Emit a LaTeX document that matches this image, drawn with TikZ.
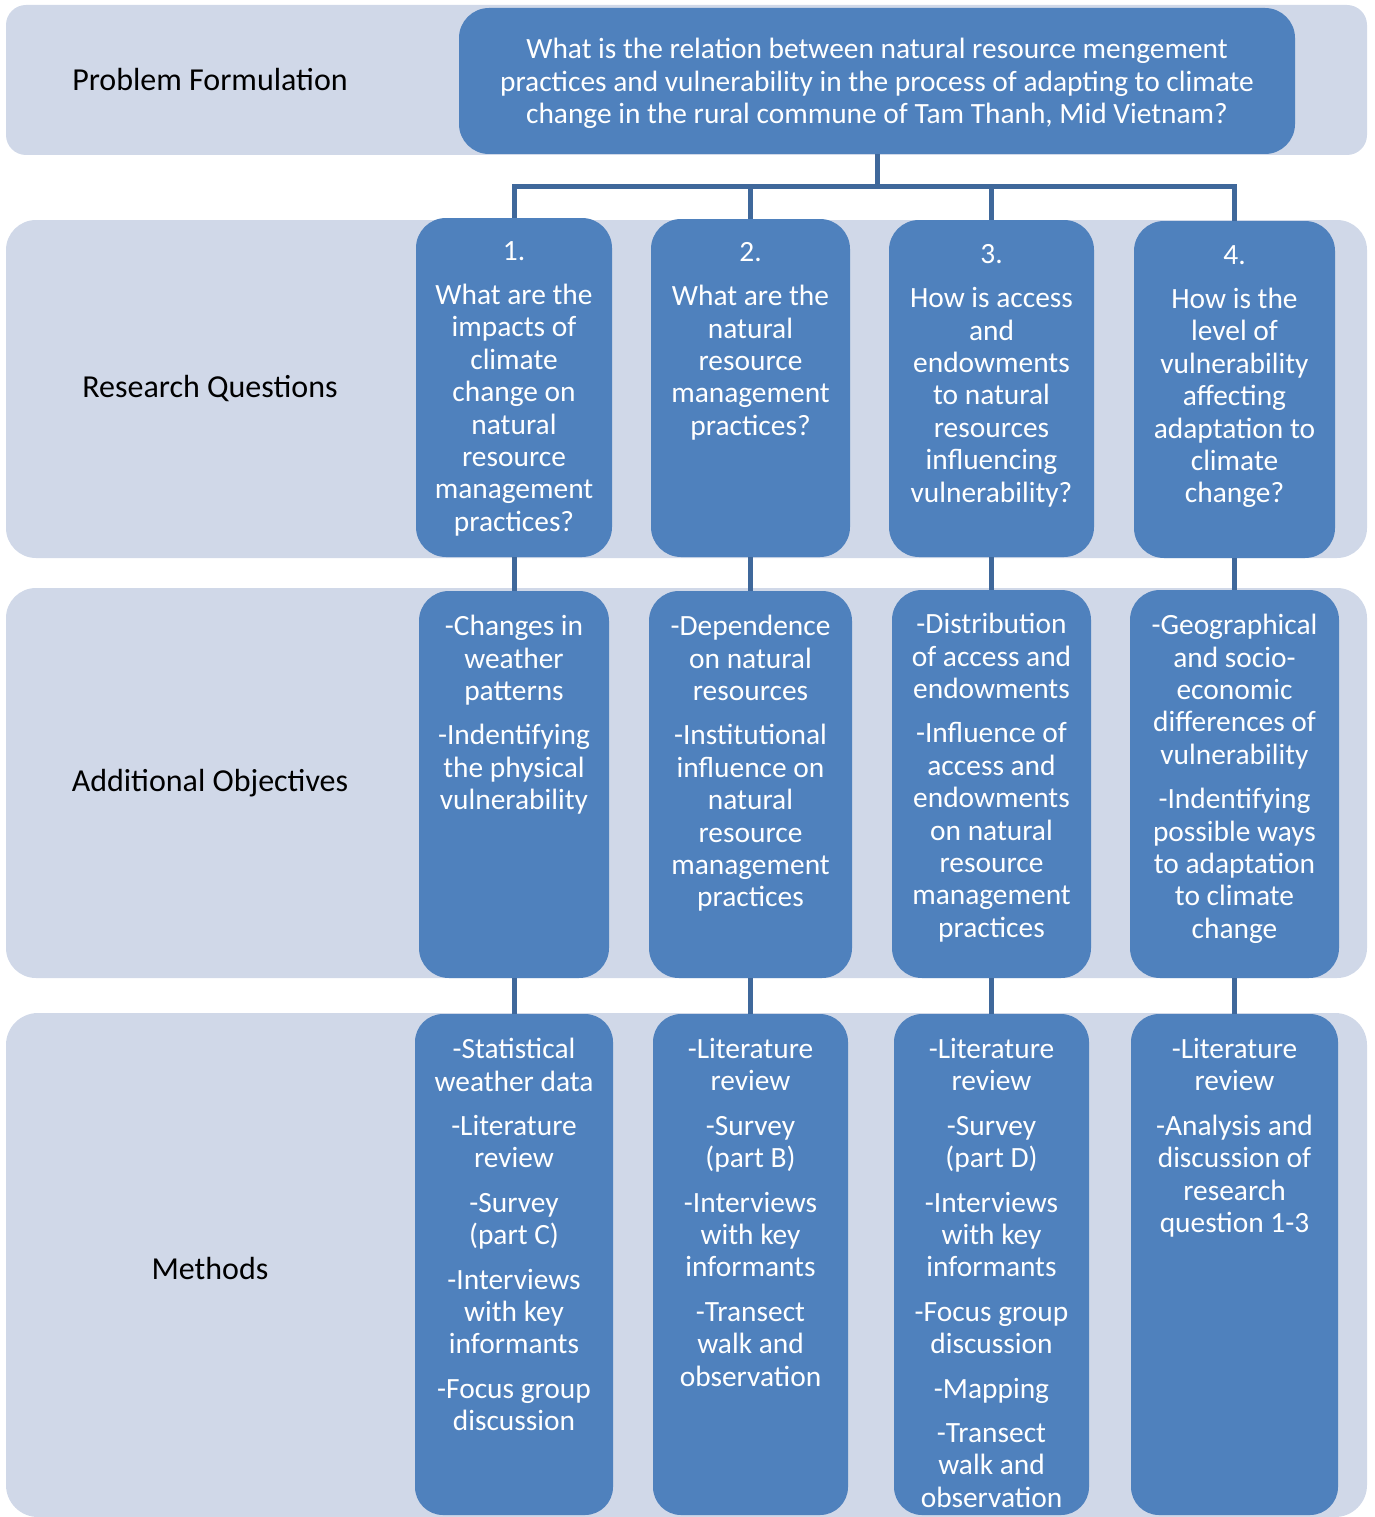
\documentclass[tikz,border=0pt]{standalone}
\usepackage{fontspec}
\setmainfont{Carlito}
\usetikzlibrary{fit}
\definecolor{bandc}{RGB}{208,216,232}
\definecolor{boxc}{RGB}{79,129,189}
\definecolor{linec}{RGB}{63,104,155}
\begin{document}
\begin{tikzpicture}[x=1pt,y=-1pt,
  band/.style={fill=bandc, draw=none},
  qbox/.style={fill=boxc, draw=none, rectangle, rounded corners=30pt, inner sep=0pt},
  qtxt/.style={text=white, align=center, anchor=north, inner sep=0pt, font=\fontsize{29.4}{32.4}\selectfont},
  lbl/.style={text=black, inner sep=0pt, font=\fontsize{32}{36}\selectfont},
  conn/.style={draw=linec, line width=5pt}]
\useasboundingbox (0,0) rectangle (1374,1517);
% bands
\fill[band, rounded corners=20pt] (6,5) rectangle (1367,155);
\fill[band, rounded corners=30pt] (6,220) rectangle (1367,558);
\fill[band, rounded corners=30pt] (6,588) rectangle (1367,978);
\fill[band, rounded corners=32pt] (6,1013) rectangle (1367,1517);
% row labels
\node[lbl] (lpf) at (210,80) {Problem Formulation};
\node[lbl] (lrq) at (210,389) {Research Questions};
\node[lbl] (lao) at (210,783) {Additional Objectives};
\node[lbl] (lme) at (210,1268) {Methods};
% top box
\node[qbox, fit={(459,8) (1295,154)}] (top) {};
\node[qtxt] (ttop) at (877,38) {What is the relation between natural resource mengement\\ practices and vulnerability in the process of adapting to climate\\ change in the rural commune of Tam Thanh, Mid Vietnam?};
% research questions
\node[qbox, fit={(416,218) (612,557)}] (q1) {};
\node[qbox, fit={(651,219) (850,557)}] (q2) {};
\node[qbox, fit={(889,220) (1094,557)}] (q3) {};
\node[qbox, fit={(1134,221) (1335,558)}] (q4) {};
\node[qtxt] (tq1) at (514,241) {1.\\[12pt] What are the\\ impacts of\\ climate\\ change on\\ natural\\ resource\\ management\\ practices?};
\node[qtxt] (tq2) at (750.5,242) {2.\\[12pt] What are the\\ natural\\ resource\\ management\\ practices?};
\node[qtxt] (tq3) at (991.5,244) {3.\\[12pt] How is access\\ and\\ endowments\\ to natural\\ resources\\ influencing\\ vulnerability?};
\node[qtxt] (tq4) at (1234.5,245) {4.\\[12pt] How is the\\ level of\\ vulnerability\\ affecting\\ adaptation to\\ climate\\ change?};
% additional objectives
\node[qbox, fit={(419,591) (609,978)}] (a1) {};
\node[qbox, fit={(649,591) (852,978)}] (a2) {};
\node[qbox, fit={(892,590) (1091,978)}] (a3) {};
\node[qbox, fit={(1130,590) (1339,978)}] (a4) {};
\node[qtxt] (ta1) at (514,615) {-Changes in\\ weather\\ patterns\\[12pt] -Indentifying\\ the physical\\ vulnerability};
\node[qtxt] (ta2) at (750.5,615) {-Dependence\\ on natural\\ resources\\[12pt] -Institutional\\ influence on\\ natural\\ resource\\ management\\ practices};
\node[qtxt] (ta3) at (991.5,613) {-Distribution\\ of access and\\ endowments\\[12pt] -Influence of\\ access and\\ endowments\\ on natural\\ resource\\ management\\ practices};
\node[qtxt] (ta4) at (1234.5,614) {-Geographical\\ and socio-\\ economic\\ differences of\\ vulnerability\\[12pt] -Indentifying\\ possible ways\\ to adaptation\\ to climate\\ change};
% methods
\node[qbox, rounded corners=28pt, fit={(415,1014) (613,1515)}] (m1) {};
\node[qbox, rounded corners=28pt, fit={(653,1014) (848,1515)}] (m2) {};
\node[qbox, rounded corners=28pt, fit={(894,1014) (1089,1515)}] (m3) {};
\node[qbox, rounded corners=28pt, fit={(1131,1014) (1338,1515)}] (m4) {};
\node[qtxt] (tm1) at (514,1038) {-Statistical\\ weather data\\[12pt] -Literature\\ review\\[12pt] -Survey\\ (part C)\\[12pt] -Interviews\\ with key\\ informants\\[12pt] -Focus group\\ discussion};
\node[qtxt] (tm2) at (750.5,1038) {-Literature\\ review\\[12pt] -Survey\\ (part B)\\[12pt] -Interviews\\ with key\\ informants\\[12pt] -Transect\\ walk and\\ observation};
\node[qtxt] (tm3) at (991.5,1038) {-Literature\\ review\\[12pt] -Survey\\ (part D)\\[12pt] -Interviews\\ with key\\ informants\\[12pt] -Focus group\\ discussion\\[12pt] -Mapping\\[12pt] -Transect\\ walk and\\ observation};
\node[qtxt] (tm4) at (1234.5,1038) {-Literature\\ review\\[12pt] -Analysis and\\ discussion of\\ research\\ question 1-3};
% connectors
\coordinate (bus) at (877,187);
\draw[conn] (top.south) -- (top.south |- bus) -| (q1.north);
\draw[conn] (top.south |- bus) -| (q4.north);
\draw[conn] (q2.north |- bus) -- (q2.north);
\draw[conn] (q3.north |- bus) -- (q3.north);
\draw[conn] (q1.south) -- (a1.north);
\draw[conn] (q2.south) -- (a2.north);
\draw[conn] (q3.south) -- (a3.north);
\draw[conn] (q4.south) -- (a4.north);
\draw[conn] (a1.south) -- (m1.north);
\draw[conn] (a2.south) -- (m2.north);
\draw[conn] (a3.south) -- (m3.north);
\draw[conn] (a4.south) -- (m4.north);
\end{tikzpicture}
\end{document}
